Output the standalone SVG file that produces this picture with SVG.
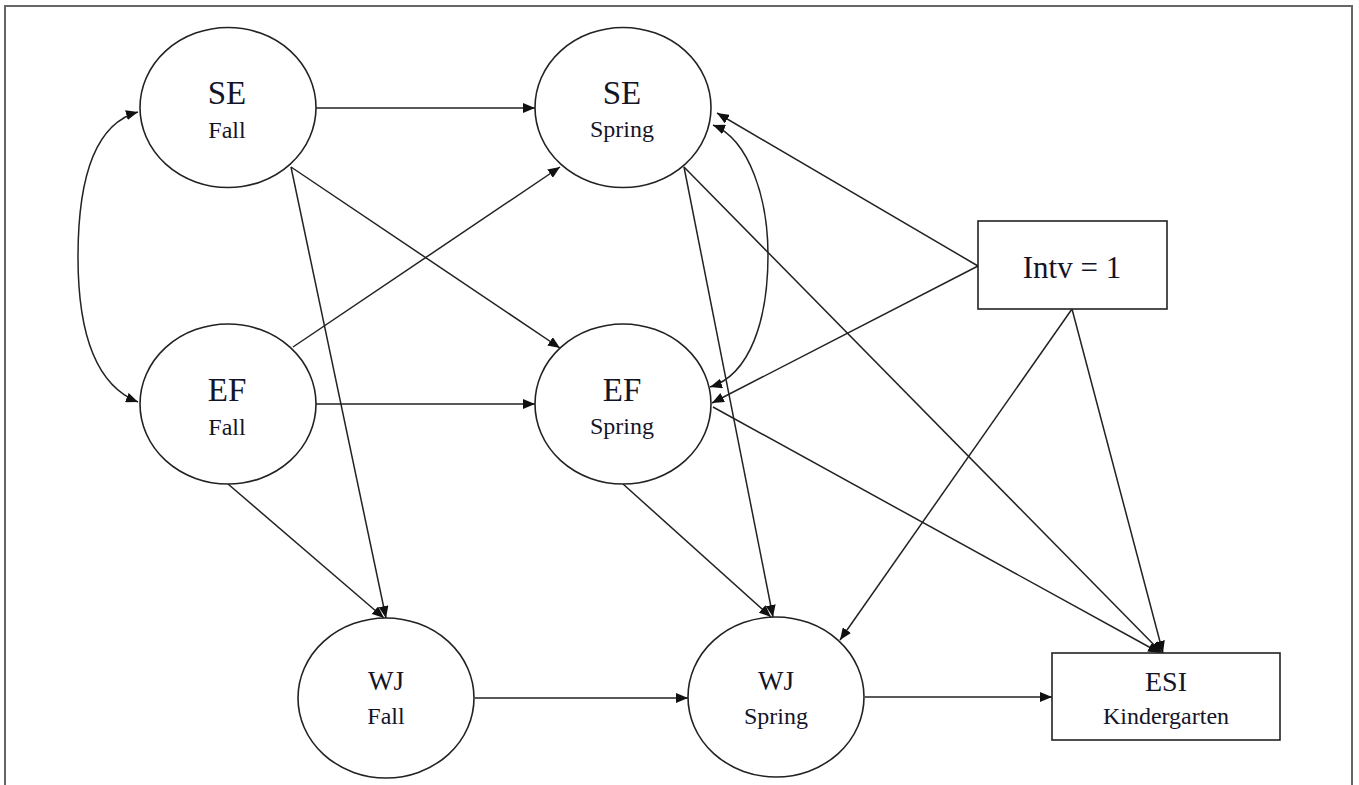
<svg xmlns="http://www.w3.org/2000/svg" width="1359" height="785" viewBox="0 0 1359 785">
<style>
.node{fill:#fff;stroke:#222;stroke-width:1.6}
.big{font-family:"Liberation Serif","Times New Roman",serif;font-size:33px;fill:#141428;text-anchor:middle}
.wj{font-family:"Liberation Serif","Times New Roman",serif;font-size:27px;fill:#141428;text-anchor:middle}
.sub{font-family:"Liberation Serif","Times New Roman",serif;font-size:24px;fill:#141428;text-anchor:middle}
.edge{fill:none;stroke:#222;stroke-width:1.5;marker-end:url(#ah)}
.both{fill:none;stroke:#222;stroke-width:1.5;marker-end:url(#ah);marker-start:url(#ahs)}
</style>
<defs>
<marker id="ah" viewBox="0 0 12 10" refX="12" refY="5" markerWidth="12" markerHeight="10" markerUnits="userSpaceOnUse" orient="auto">
<path d="M0,0 L12,5 L0,10 Z" fill="#111"/>
</marker>
<marker id="ahs" viewBox="0 0 12 10" refX="12" refY="5" markerWidth="12" markerHeight="10" markerUnits="userSpaceOnUse" orient="auto-start-reverse">
<path d="M0,0 L12,5 L0,10 Z" fill="#111"/>
</marker>
</defs>
<rect width="1359" height="785" fill="#fff"/>
<rect x="5" y="6" width="1347" height="800" fill="none" stroke="#666" stroke-width="2"/>
<g id="connectors">
<line class="edge" x1="316" y1="108" x2="535" y2="108"/>
<line class="edge" x1="291" y1="167" x2="560" y2="348"/>
<line class="edge" x1="291" y1="167" x2="386" y2="618"/>
<line class="edge" x1="293" y1="347" x2="560" y2="167"/>
<line class="edge" x1="316" y1="404" x2="535" y2="404"/>
<line class="edge" x1="228" y1="484" x2="384" y2="618"/>
<line class="edge" x1="684" y1="167" x2="773" y2="617"/>
<line class="edge" x1="684" y1="167" x2="1162" y2="653"/>
<line class="edge" x1="623" y1="484" x2="771" y2="617"/>
<line class="edge" x1="713" y1="407" x2="1160" y2="653"/>
<line class="edge" x1="978" y1="266" x2="717" y2="113"/>
<line class="edge" x1="978" y1="266" x2="712" y2="403"/>
<line class="edge" x1="1072" y1="309" x2="840" y2="640"/>
<line class="edge" x1="1072" y1="309" x2="1163" y2="653"/>
<line class="edge" x1="475" y1="698" x2="688" y2="698"/>
<line class="edge" x1="865" y1="697" x2="1052" y2="697"/>
<path class="both" d="M138,112 C90,125 78,190 78,257 C78,330 95,385 138,402"/>
<path class="both" d="M713,125 C750,140 768,200 768,255 C768,320 750,375 710,387"/>
</g>
<g id="se_fall">
<ellipse class="node" cx="228" cy="107.5" rx="88" ry="80"/>
<text class="big" x="227" y="104">SE</text>
<text class="sub" x="227" y="138">Fall</text>
</g>
<g id="se_spring">
<ellipse class="node" cx="623" cy="107.5" rx="88" ry="80"/>
<text class="big" x="622" y="104">SE</text>
<text class="sub" x="622" y="137">Spring</text>
</g>
<g id="ef_fall">
<ellipse class="node" cx="228" cy="404" rx="88" ry="80"/>
<text class="big" x="227" y="401">EF</text>
<text class="sub" x="227" y="435">Fall</text>
</g>
<g id="ef_spring">
<ellipse class="node" cx="623" cy="404" rx="88" ry="80"/>
<text class="big" x="622" y="401">EF</text>
<text class="sub" x="622" y="434">Spring</text>
</g>
<g id="wj_fall">
<ellipse class="node" cx="386" cy="698" rx="88" ry="80"/>
<text class="wj" x="386" y="690">WJ</text>
<text class="sub" x="386" y="724">Fall</text>
</g>
<g id="wj_spring">
<ellipse class="node" cx="776" cy="697" rx="88" ry="80"/>
<text class="wj" x="776" y="690">WJ</text>
<text class="sub" x="776" y="724">Spring</text>
</g>
<g id="intv">
<rect class="node" x="978" y="221" width="189" height="88"/>
<text class="big" x="1072" y="278" style="font-size:31px">Intv = 1</text>
</g>
<g id="esi">
<rect class="node" x="1052" y="653" width="228" height="87"/>
<text class="wj" x="1166" y="691" style="font-size:28px">ESI</text>
<text class="sub" x="1166" y="724">Kindergarten</text>
</g>
</svg>
